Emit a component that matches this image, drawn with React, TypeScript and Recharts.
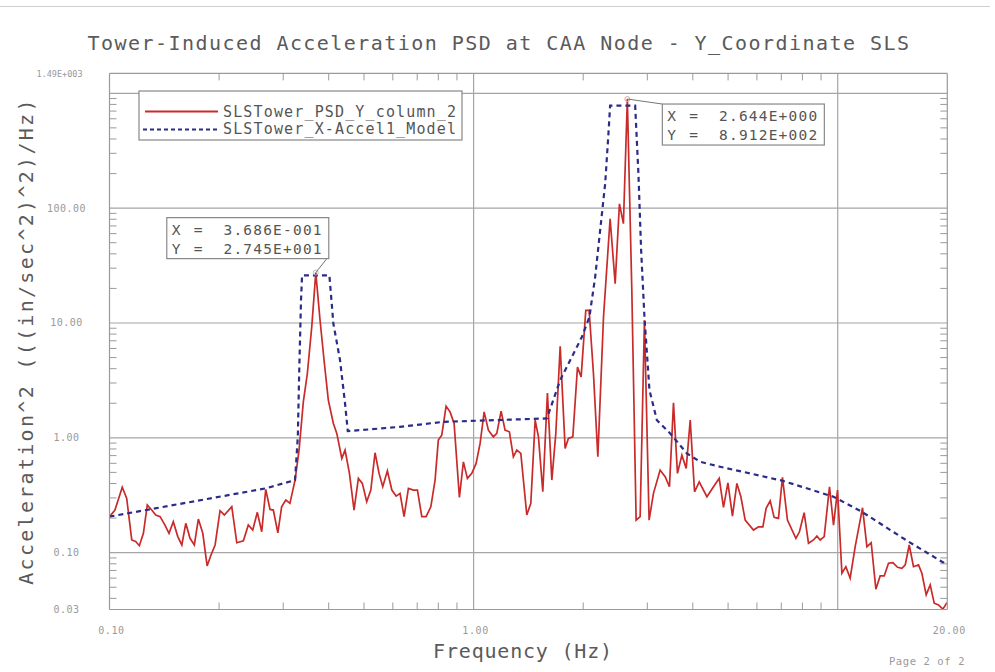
import React from 'react';
import { LineChart, Line, XAxis, YAxis, ReferenceLine, ReferenceDot } from 'recharts';

// ---------- data ----------
const frequencyHz = [0.100,0.1035,0.1084,0.1115,0.1151,0.1180,0.1208,0.1239,0.1270,0.1306,0.1340,0.1377,0.1420,0.1457,0.1497,0.1540,0.1580,0.1620,0.1664,0.1710,0.1754,0.1804,0.1854,0.1900,0.1950,0.2012,0.2067,0.2167,0.2237,0.2332,0.2406,0.2474,0.2547,0.2619,0.2686,0.2760,0.2818,0.2900,0.2970,0.3050,0.3130,0.3233,0.3316,0.3407,0.3495,0.3593,0.3686,0.3787,0.3884,0.3990,0.4120,0.4210,0.4345,0.4436,0.4560,0.4695,0.4825,0.4948,0.5087,0.5220,0.5362,0.5500,0.5630,0.5797,0.5963,0.6127,0.6280,0.6443,0.6622,0.6834,0.7010,0.7206,0.7405,0.7630,0.7838,0.8000,0.8176,0.8403,0.8618,0.8840,0.9141,0.9375,0.9616,0.9887,1.016,1.042,1.069,1.098,1.133,1.158,1.190,1.220,1.254,1.286,1.314,1.348,1.400,1.436,1.476,1.507,1.549,1.595,1.640,1.682,1.729,1.784,1.821,1.873,1.929,1.974,2.033,2.076,2.134,2.194,2.274,2.371,2.448,2.515,2.579,2.644,2.720,2.795,2.867,2.946,3.034,3.119,3.253,3.358,3.451,3.540,3.630,3.733,3.836,3.935,4.044,4.166,4.373,4.559,4.727,4.857,4.994,5.140,5.286,5.421,5.571,5.871,6.060,6.230,6.360,6.525,6.690,6.876,7.052,7.278,7.677,7.852,8.089,8.314,8.581,8.768,8.952,9.182,9.495,9.739,9.990,10.27,10.53,10.82,11.17,11.70,12.03,12.36,12.73,13.08,13.42,13.79,14.18,14.60,15.01,15.33,15.72,16.15,16.67,17.03,17.50,17.95,18.41,18.92,19.45,19.95];

const measuredPsd = [0.206,0.235,0.371,0.297,0.129,0.125,0.115,0.1475,0.260,0.235,0.213,0.206,0.174,0.1475,0.186,0.138,0.1167,0.180,0.1334,0.1167,0.196,0.1475,0.0766,0.0955,0.1167,0.232,0.213,0.251,0.122,0.127,0.174,0.1575,0.2245,0.152,0.356,0.238,0.235,0.149,0.251,0.287,0.269,0.4286,0.782,2.06,3.65,9.23,27.45,10.56,4.74,2.13,1.334,1.092,0.662,0.782,0.490,0.235,0.4436,0.401,0.2777,0.351,0.741,0.490,0.375,0.516,0.351,0.311,0.3285,0.206,0.363,0.351,0.351,0.206,0.206,0.251,0.4286,0.955,1.056,1.887,1.683,1.334,0.303,0.618,0.4436,0.490,0.599,0.894,1.683,1.166,1.02,1.092,1.707,1.166,1.128,0.684,0.782,0.732,0.213,0.269,1.425,1.02,0.339,2.46,0.4286,1.092,6.27,0.809,0.988,1.02,4.14,3.39,12.9,12.9,3.63,0.684,11.28,80.9,22.0,109,73.2,891.2,19.2,0.192,0.206,10.56,0.192,0.3285,0.524,0.458,0.375,2.014,0.490,0.707,0.542,1.425,0.339,0.414,0.307,0.375,0.4436,0.248,0.406,0.2085,0.401,0.307,0.192,0.1575,0.168,0.168,0.243,0.283,0.203,0.199,0.453,0.192,0.1334,0.152,0.223,0.1207,0.129,0.1397,0.129,0.138,0.375,0.174,0.351,0.0662,0.0755,0.0599,0.1127,0.246,0.1127,0.122,0.0481,0.0627,0.0627,0.0809,0.0818,0.0746,0.0731,0.0782,0.1167,0.0755,0.0782,0.0662,0.0429,0.0524,0.0363,0.0351,0.0322,0.0367];

const modelFrequencyHz = [0.1,0.2686,0.3233,0.329,0.332,0.3357,0.338,0.4017,0.412,0.4297,0.4436,0.4512,0.628,0.826,1.589,1.729,1.983,2.08,2.157,2.226,2.298,2.346,2.371,2.778,2.836,2.885,2.946,3.041,3.187,3.467,3.852,4.192,4.755,7.052,9.739,11.65,15.65,20.0];
const modelPsd = [0.206,0.363,0.4286,1.02,3.88,15.7,26,26,9.88,4.74,1.99,1.143,1.246,1.378,1.475,3.18,7.55,11.28,25.1,64.0,163,444,780,780,199,42.9,11.28,2.6,1.425,1.092,0.732,0.618,0.56,0.423,0.307,0.227,0.1247,0.0782];

const seriesNames = ['SLSTower_PSD_Y_column_2', 'SLSTower_X-Accel1_Model'];

const xMajorTicks = [0.1, 1, 20];
const xMajorLabels = ['0.10', '1.00', '20.00'];
const xMinorTicks = [0.2, 0.3, 0.4, 0.5, 0.6, 0.7, 0.8, 0.9, 2, 3, 4, 5, 6, 7, 8, 9];
const yMajorTicks = [0.032, 0.1, 1, 10, 100, 1490];
const yMajorLabels = ['0.03', '0.10', '1.00', '10.00', '100.00', '1.49E+003'];
const yMinorTicks = [0.04, 0.05, 0.06, 0.07, 0.08, 0.09, 0.2, 0.3, 0.4, 0.5, 0.6, 0.7, 0.8, 0.9, 2, 3, 4, 5, 6, 7, 8, 9, 20, 30, 40, 50, 60, 70, 80, 90, 200, 300, 400, 500, 600, 700, 800, 900];
const xGridLines = [1, 10];
const yGridLines = [0.1, 1, 10, 100, 1000];

const peakFreq = [0.3686, 2.644];
const peakPsd = [27.45, 891.2];
const peakXText = ['3.686E-001', '2.644E+000'];
const peakYText = ['2.745E+001', '8.912E+002'];

// ---------- derived tables ----------
const measuredData = frequencyHz.map((f, i) => ({ f, v: measuredPsd[i] }));
const modelData = modelFrequencyHz.map((f, i) => ({ f, v: modelPsd[i] }));
const xTicksAll = [...xMajorTicks, ...xMinorTicks].sort((a, b) => a - b);
const yTicksAll = [...yMajorTicks, ...yMinorTicks].sort((a, b) => a - b);

const MONO = '"DejaVu Sans Mono", "Liberation Mono", monospace';
const AXIS = '#9a9a9a';
const TL = 7;
const RED = '#c92a2a';
const BLUE = '#2b2b88';

const LeftTick = (p: any) => {
  const { x, y, payload } = p;
  const i = yMajorTicks.indexOf(payload.value);
  if (i < 0) return <line x1={x} y1={y} x2={x + TL} y2={y} stroke={AXIS} strokeWidth={1} />;
  const top = i === yMajorTicks.length - 1;
  return (
    <text x={x - (top ? 50 : 43)} y={y + 3.5} textAnchor="middle" fontFamily={MONO}
      fontSize={top ? 8.5 : 10} letterSpacing={top ? 0 : 0.5} fill="#999">
      {yMajorLabels[i]}
    </text>
  );
};
const RightTick = (p: any) => {
  const { x, y, payload } = p;
  if (yMajorTicks.indexOf(payload.value) >= 0) return <g />;
  return <line x1={x} y1={y} x2={x - TL} y2={y} stroke={AXIS} strokeWidth={1} />;
};
const BottomTick = (p: any) => {
  const { x, y, payload } = p;
  const i = xMajorTicks.indexOf(payload.value);
  if (i < 0) return <line x1={x} y1={y} x2={x} y2={y - TL} stroke={AXIS} strokeWidth={1} />;
  return (
    <text x={x + 2} y={y + 24} textAnchor="middle" fontFamily={MONO} fontSize={10}
      letterSpacing={0.6} fill="#999">
      {xMajorLabels[i]}
    </text>
  );
};
const TopTick = (p: any) => {
  const { x, y, payload } = p;
  if (xMajorTicks.indexOf(payload.value) >= 0) return <g />;
  return <line x1={x} y1={y} x2={x} y2={y + TL} stroke={AXIS} strokeWidth={1} />;
};

const makeAnnot = (k: number) => (props: any) => {
  const vb = props.viewBox || {};
  const cx = (vb.x ?? 0) + (vb.width ?? 0) / 2;
  const cy = (vb.y ?? 0) + (vb.height ?? 0) / 2;
  const bw = 162;
  const bh = 41;
  const bx = k === 0 ? cx - 149 : cx + 35;
  const by = k === 0 ? cy - 55 : cy + 5;
  const lx = k === 0 ? cx + 11 : bx;
  const ly = k === 0 ? by + bh : by;
  const ts = { fontFamily: MONO, fontSize: 14.5, fill: '#555' } as any;
  return (
    <g>
      <line x1={cx} y1={cy} x2={lx} y2={ly} stroke="#777" strokeWidth={1} />
      <rect x={bx} y={by} width={bw} height={bh} fill="#fff" stroke="#888" strokeWidth={1.2} />
      <text x={bx + 5} y={by + 17} {...ts}>X</text>
      <text x={bx + 27} y={by + 17} {...ts}>=</text>
      <text x={bx + bw - 6} y={by + 17} textAnchor="end" letterSpacing={1.2} {...ts}>{peakXText[k]}</text>
      <text x={bx + 5} y={by + 36} {...ts}>Y</text>
      <text x={bx + 27} y={by + 36} {...ts}>=</text>
      <text x={bx + bw - 6} y={by + 36} textAnchor="end" letterSpacing={1.2} {...ts}>{peakYText[k]}</text>
    </g>
  );
};

export default function App() {
  const W = 995;
  const H = 672;
  return (
    <div style={{ position: 'absolute', left: 0, top: 0, width: W, height: H, background: '#fff', overflow: 'hidden' }}>
      <div style={{ position: 'absolute', left: 0, top: 6, width: 990, height: 1, background: '#cfcfcf' }} />
      <LineChart width={W} height={H} margin={{ top: 72.4, right: 46.7, bottom: 61.5, left: 108.5 }}>
        <XAxis xAxisId="b" type="number" dataKey="f" scale="log" domain={[0.1, 20]} allowDataOverflow
          ticks={xTicksAll} interval={0} height={1} tickSize={0} tickMargin={0} tickLine={false}
          tick={<BottomTick />} axisLine={{ stroke: AXIS, strokeWidth: 1.2 }} />
        <XAxis xAxisId="t" orientation="top" type="number" dataKey="f" scale="log" domain={[0.1, 20]} allowDataOverflow
          ticks={xTicksAll} interval={0} height={1} tickSize={0} tickMargin={0} tickLine={false}
          tick={<TopTick />} axisLine={{ stroke: AXIS, strokeWidth: 1.2 }} />
        <YAxis yAxisId="l" type="number" dataKey="v" scale="log" domain={[0.032, 1490]} allowDataOverflow
          ticks={yTicksAll} interval={0} width={1} tickSize={0} tickMargin={0} tickLine={false}
          tick={<LeftTick />} axisLine={{ stroke: AXIS, strokeWidth: 1.2 }} />
        <YAxis yAxisId="r" orientation="right" type="number" dataKey="v" scale="log" domain={[0.032, 1490]} allowDataOverflow
          ticks={yTicksAll} interval={0} width={1} tickSize={0} tickMargin={0} tickLine={false}
          tick={<RightTick />} axisLine={{ stroke: AXIS, strokeWidth: 1.2 }} />
        {yGridLines.map((v) => (
          <ReferenceLine key={'gy' + v} xAxisId="b" yAxisId="l" y={v} stroke="#a5a5a5" strokeWidth={1.2} />
        ))}
        {xGridLines.map((v) => (
          <ReferenceLine key={'gx' + v} xAxisId="b" yAxisId="l" x={v} stroke="#a5a5a5" strokeWidth={1.2} />
        ))}
        <Line data={measuredData} xAxisId="b" yAxisId="l" dataKey="v" name={seriesNames[0]} type="linear"
          stroke={RED} strokeWidth={1.7} dot={false} isAnimationActive={false} />
        <Line data={modelData} xAxisId="t" yAxisId="r" dataKey="v" name={seriesNames[1]} type="linear"
          stroke={BLUE} strokeWidth={2.2} strokeDasharray="5 4" dot={false} isAnimationActive={false} />
        {peakFreq.map((f, k) => (
          <ReferenceDot key={'pk' + k} xAxisId="b" yAxisId="l" x={f} y={peakPsd[k]} r={2.5}
            fill="none" stroke={k === 0 ? '#bbb' : '#e4a0a0'} strokeWidth={1}
            label={makeAnnot(k)} />
        ))}
      </LineChart>
      <svg width={W} height={H} style={{ position: 'absolute', left: 0, top: 0, pointerEvents: 'none' }}>
        <text x={499} y={50} textAnchor="middle" fontFamily={MONO} fontSize={20} letterSpacing={1.45} fill="#5a5a5a">
          Tower-Induced Acceleration PSD at CAA Node - Y_Coordinate SLS
        </text>
        <text x={523} y={658} textAnchor="middle" fontFamily={MONO} fontSize={20} letterSpacing={0.8} fill="#5a5a5a">
          Frequency (Hz)
        </text>
        <text transform="translate(33,341) rotate(-90)" textAnchor="middle" fontFamily={MONO} fontSize={20}
          letterSpacing={2.3} fill="#5a5a5a">
          {'Acceleration^2 (((in/sec^2)^2)/Hz)'}
        </text>
        <text x={927} y={665} textAnchor="middle" fontFamily={MONO} fontSize={10.5} letterSpacing={0.6} fill="#999">
          Page 2 of 2
        </text>
        <rect x={139} y={91} width={323} height={49} fill="#fff" stroke="#888" strokeWidth={1.2} />
        <line x1={145} y1={111.5} x2={218} y2={111.5} stroke={RED} strokeWidth={2.2} />
        <line x1={143} y1={129.5} x2={220} y2={129.5} stroke={BLUE} strokeWidth={2} strokeDasharray="4 3" />
        <text x={223} y={117} fontFamily={MONO} fontSize={15} letterSpacing={1.15} fill="#555">{seriesNames[0]}</text>
        <text x={223} y={134} fontFamily={MONO} fontSize={15} letterSpacing={1.15} fill="#555">{seriesNames[1]}</text>
      </svg>
    </div>
  );
}
